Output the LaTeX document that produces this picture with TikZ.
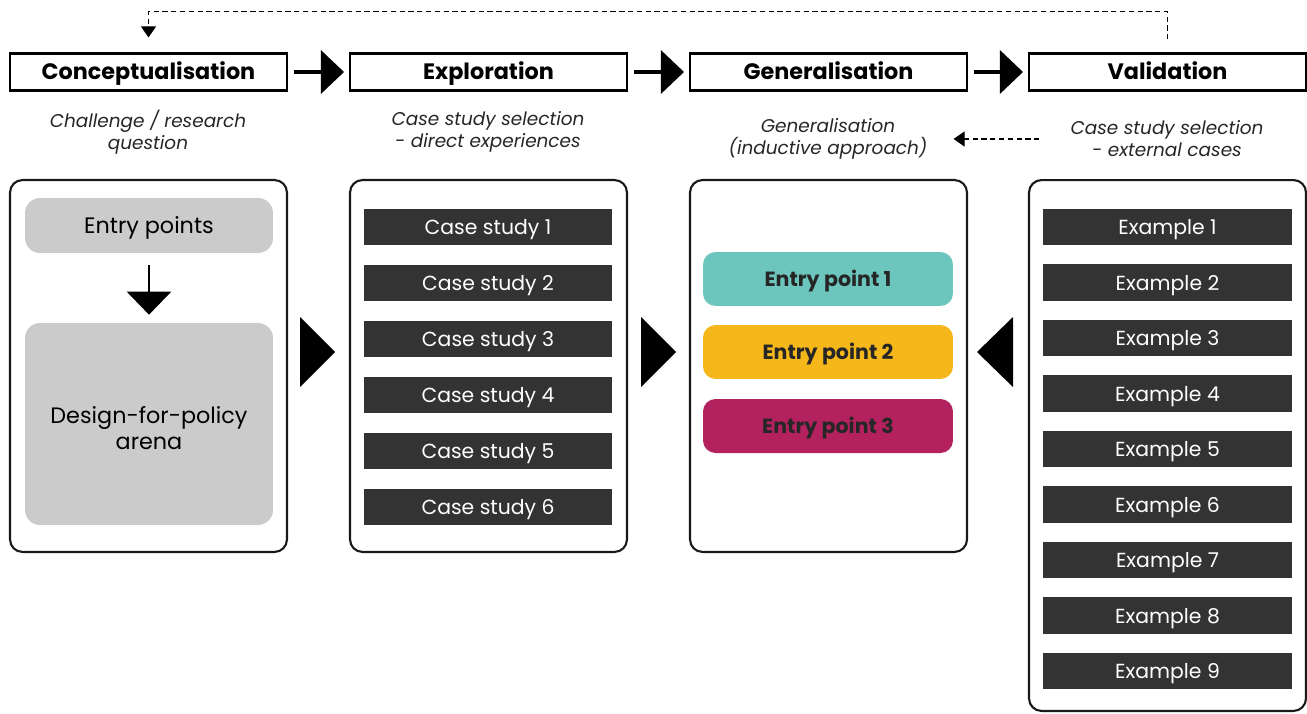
\documentclass[tikz,border=0pt]{standalone}
\usepackage{fontspec}
\setmainfont{Poppins}
\usepackage{xcolor}
\usepackage{tikz}
\usetikzlibrary{positioning,arrows.meta,calc}
\definecolor{slate}{HTML}{333333}
\definecolor{fog}{HTML}{CBCBCB}
\definecolor{lagoon}{HTML}{6CC6BD}
\definecolor{amber}{HTML}{F6B71B}
\definecolor{berry}{HTML}{B3215F}
\tikzset{
  hdr/.style    ={draw=black, very thick, minimum width=5.54cm, minimum height=7.4mm, inner sep=0pt, text height=2ex, text depth=.4ex, font=\fontsize{12.7}{14}\selectfont\bfseries},
  subt/.style   ={align=center, text=black!85, font=\fontsize{10.5}{12.5}\selectfont\itshape},
  colbox/.style ={draw=black!90, very thick, rounded corners=2.5mm, minimum width=5.54cm},
  greybox/.style={fill=fog, rounded corners=3mm, minimum width=4.96cm, align=center, font=\fontsize{12.7}{15}\selectfont},
  bar/.style    ={fill=slate, text=white, minimum width=4.98cm, minimum height=7.3mm, inner sep=0pt, text height=2ex, text depth=.4ex, font=\fontsize{11.6}{13}\selectfont},
  entry/.style  ={rounded corners=2.5mm, minimum width=5cm, minimum height=10.8mm, inner sep=0pt, text height=2ex, text depth=.4ex, text=black!85, font=\fontsize{11.7}{13}\selectfont\bfseries},
  flow/.style   ={-{Triangle[length=4.6mm,width=8.6mm]}, line width=1.9pt, shorten <=1.1mm, shorten >=1mm},
  drop/.style   ={-{Triangle[length=4.6mm,width=8.8mm]}, line width=1.5pt},
  fback/.style  ={-{Triangle[length=2.2mm,width=3mm]}, semithick, dash pattern=on 3pt off 2pt},
  wedge/.style  ={fill=black},
}
\begin{document}
\begin{tikzpicture}[x=0.02cm, y=-0.02cm]
  \useasboundingbox (0,0) rectangle (1307,713);
  \node[hdr] (h1) at (148.5,72) {Conceptualisation};
  \node[hdr] (h2) at (488.5,72) {Exploration};
  \node[hdr] (h3) at (828.5,72) {Generalisation};
  \node[hdr] (h4) at (1167.5,72) {Validation};
  \draw[flow] (h1) -- (h2);
  \draw[flow] (h2) -- (h3);
  \draw[flow] (h3) -- (h4);
  \draw[fback] ([yshift=2.6mm]h4.north) -- ++(0,-28) -| ([yshift=3mm]h1.north);

  \node[subt] (s1) at (148,132) {Challenge / research\\question};
  \node[subt] (s2) at (488,132) {Case study selection\\- direct experiences};
  \node[subt] (s3) at (828,139) {Generalisation\\(inductive approach)};
  \node[subt] (s4) at (1167,139) {Case study selection\\- external cases};
  \draw[fback, shorten <=5mm, shorten >=4mm] (s4.west) -- (s3.east);

  \node[colbox, minimum height=7.44cm]  (c1) at (148.5,366) {};
  \node[colbox, minimum height=7.44cm]  (c2) at (488.5,366) {};
  \node[colbox, minimum height=7.44cm]  (c3) at (828.5,366) {};
  \node[colbox, minimum height=10.62cm] (c4) at (1167.5,445.5) {};

  \node[greybox, minimum height=1.1cm, text height=2ex, text depth=.4ex] (e1) at (149,225.5) {Entry points};
  \node[greybox, minimum height=4.04cm, text height=29pt, text depth=0pt] (d1) at (149,424) {Design-for-policy\\arena};
  \draw[drop, shorten <=2.4mm, shorten >=1.6mm] (e1) -- (d1);

  \foreach \i in {1,...,6}
    \node[bar] (cs\i) at (488,{227+56*(\i-1)}) {Case study \i};
  \foreach \i in {1,...,9}
    \node[bar] (ex\i) at (1167.5,{227+55.5*(\i-1)}) {Example \i};

  \node[entry, fill=lagoon] (ep1) at (828,279) {Entry point 1};
  \node[entry, fill=amber]  (ep2) at (828,352) {Entry point 2};
  \node[entry, fill=berry]  (ep3) at (828,426) {Entry point 3};

  \coordinate (t1) at (335,352);
  \coordinate (t2) at (676,352);
  \coordinate (t3) at (977,352);
  \fill[wedge] (t1) -- ++(-35,-35) -- ++(0,70) -- cycle;
  \fill[wedge] (t2) -- ++(-35,-35) -- ++(0,70) -- cycle;
  \fill[wedge] (t3) -- ++(36,-35) -- ++(0,70) -- cycle;
\end{tikzpicture}
\end{document}
